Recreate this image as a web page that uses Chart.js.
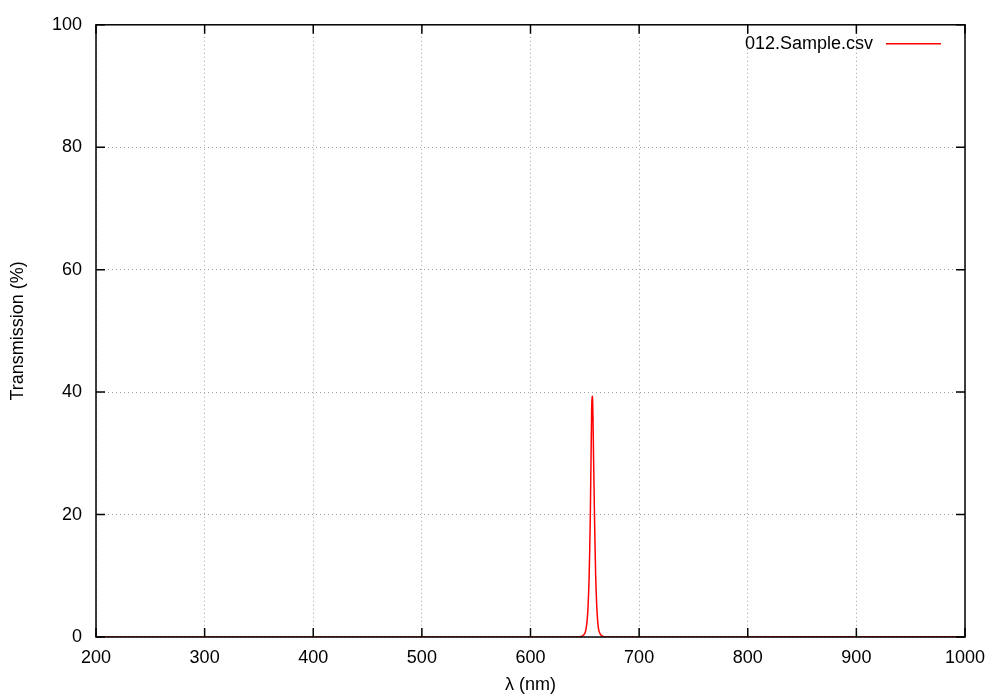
<!DOCTYPE html>
<html>
<head>
<meta charset="utf-8">
<script src="https://cdn.jsdelivr.net/npm/chart.js@4/dist/chart.umd.min.js"></script>
<style>
  html, body { margin: 0; padding: 0; background: #fff; }
  #wrap { width: 1000px; height: 700px; }
</style>
</head>
<body>
<div id="wrap"><canvas id="spectrum"></canvas></div>
<script>
// values
var wavelengths = [200, 400, 600, 630, 640, 645, 648, 650, 651, 652, 653, 654, 655, 655.5, 656, 656.5, 657, 657.5, 658, 659, 660, 661, 662, 663, 665, 668, 680, 800, 880, 900, 930, 960, 1000];
var transmission = [0, 0, 0, 0, 0, 0.05, 0.2, 0.6, 1.2, 2.5, 5, 10, 19, 26, 33, 38.5, 39.3, 36, 30, 19, 10, 5, 2.3, 1, 0.3, 0.05, 0, 0, 0.05, 0.02, 0.05, 0.05, 0];
var seriesName = "012.Sample.csv";
var xTicks = [200, 300, 400, 500, 600, 700, 800, 900, 1000];
var yTicks = [0, 20, 40, 60, 80, 100];

var fontFam = "'Liberation Sans', Arial, Helvetica, sans-serif";

var points = [];
wavelengths.forEach(function(w, i) {
  points.push({ x: w, y: transmission[i] });
});

// gnuplot-like frame, inward ticks and key
var frame = {
  id: 'frame',
  afterDraw: function(chart) {
    var ctx = chart.ctx;
    var a = chart.chartArea;
    var xs = chart.scales.x, ys = chart.scales.y;
    var len = 9;
    ctx.save();
    ctx.strokeStyle = '#000';
    ctx.lineWidth = 1.5;
    ctx.setLineDash([]);
    ctx.strokeRect(a.left, a.top, a.right - a.left, a.bottom - a.top);
    ctx.beginPath();
    xTicks.forEach(function(v) {
      var px = xs.getPixelForValue(v);
      ctx.moveTo(px, a.bottom); ctx.lineTo(px, a.bottom - len);
      ctx.moveTo(px, a.top); ctx.lineTo(px, a.top + len);
    });
    yTicks.forEach(function(v) {
      var py = ys.getPixelForValue(v);
      ctx.moveTo(a.left, py); ctx.lineTo(a.left + len, py);
      ctx.moveTo(a.right, py); ctx.lineTo(a.right - len, py);
    });
    ctx.stroke();

    // key
    var ky = a.top + 19;
    ctx.font = '18px ' + fontFam;
    ctx.fillStyle = '#000';
    ctx.textAlign = 'right';
    ctx.textBaseline = 'middle';
    ctx.fillText(seriesName, a.right - 92, ky);
    ctx.strokeStyle = '#ff0000';
    ctx.lineWidth = 1.5;
    ctx.beginPath();
    ctx.moveTo(a.right - 79, ky);
    ctx.lineTo(a.right - 24, ky);
    ctx.stroke();
    ctx.restore();
  }
};

new Chart(document.getElementById('spectrum'), {
  type: 'line',
  data: {
    datasets: [{
      label: seriesName,
      data: points,
      borderColor: '#ff0000',
      borderWidth: 1.5,
      pointRadius: 0,
      fill: false,
      tension: 0.3
    }]
  },
  options: {
    responsive: true,
    maintainAspectRatio: false,
    animation: false,
    layout: { padding: { left: 0, top: 23, right: 35, bottom: 0 } },
    plugins: {
      legend: { display: false },
      tooltip: { enabled: false }
    },
    scales: {
      x: {
        type: 'linear',
        min: 200,
        max: 1000,
        afterFit: function(s) { s.height = 63; },
        afterBuildTicks: function(s) { s.ticks = xTicks.map(function(v) { return { value: v }; }); },
        ticks: {
          color: '#000', font: { size: 18, family: fontFam }, padding: 10, maxRotation: 0,
          callback: function(v) { return String(v); }
        },
        grid: { color: '#a0a0a0', lineWidth: 1, drawTicks: false },
        border: { display: false, dash: [1, 3] },
        title: { display: true, text: 'λ (nm)', color: '#000', font: { size: 18, family: fontFam }, padding: { top: 0, bottom: 4 } }
      },
      y: {
        min: 0,
        max: 100,
        afterFit: function(s) { s.width = 96; },
        afterBuildTicks: function(s) { s.ticks = yTicks.map(function(v) { return { value: v }; }); },
        ticks: {
          color: '#000', font: { size: 18, family: fontFam }, padding: 14,
          callback: function(v) { return String(v); }
        },
        grid: { color: '#a0a0a0', lineWidth: 1, drawTicks: false },
        border: { display: false, dash: [1, 3] },
        title: { display: true, text: 'Transmission (%)', color: '#000', font: { size: 18, family: fontFam }, padding: { top: 7, bottom: 0 } }
      }
    }
  },
  plugins: [frame]
});
</script>
</body>
</html>
